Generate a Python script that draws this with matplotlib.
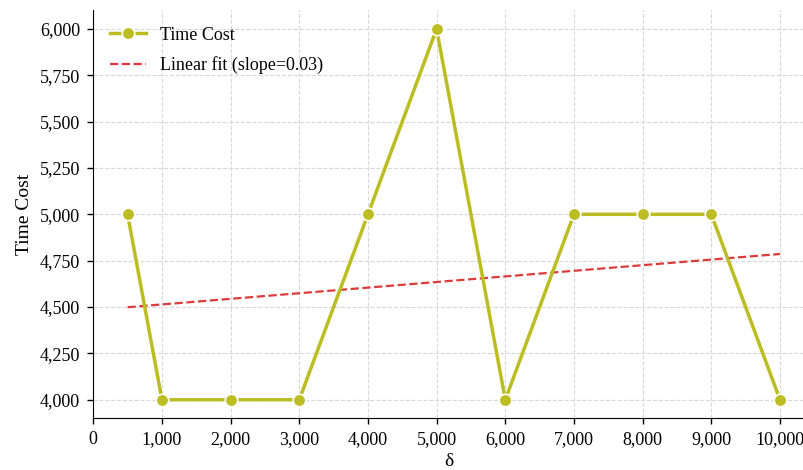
import matplotlib
matplotlib.use('Agg')
import matplotlib.pyplot as plt
from matplotlib.ticker import FuncFormatter
import numpy as np

plt.rcParams['font.family'] = ['Liberation Serif', 'DejaVu Serif']

delta = [500, 1000, 2000, 3000, 4000, 5000, 6000, 7000, 8000, 9000, 10000]
time_cost = [5000, 4000, 4000, 4000, 5000, 6000, 4000, 5000, 5000, 5000, 4000]
x_ticks = [0, 1000, 2000, 3000, 4000, 5000, 6000, 7000, 8000, 9000, 10000]
y_ticks = [4000, 4250, 4500, 4750, 5000, 5250, 5500, 5750, 6000]

x = np.array(delta, dtype=float)
y = np.array(time_cost, dtype=float)
slope, intercept = np.polyfit(x, y, 1)

fig = plt.figure(figsize=(8.04, 4.7), dpi=100)
ax = fig.add_axes([0.116, 0.11, 0.884, 0.868])

ax.plot(x, y, color='#bcbd22', linewidth=2.5, marker='o', markersize=9,
        markeredgecolor='white', markeredgewidth=1.2, label='Time Cost', zorder=3)
ax.plot(x, slope * x + intercept, color='#dd3b3b', linestyle='--', linewidth=1.6,
        label=f'Linear fit (slope={slope:.2f})', zorder=2)

ax.set_xlim(0, 10350)
ax.set_ylim(3900, 6100)
ax.set_xticks(x_ticks)
ax.set_yticks(y_ticks)
fmt = FuncFormatter(lambda v, p: f'{int(v):,}')
ax.xaxis.set_major_formatter(fmt)
ax.yaxis.set_major_formatter(fmt)
ax.tick_params(labelsize=13, length=4.5, width=1, pad=5)

ax.set_xlabel('δ', fontsize=14, labelpad=3)
ax.set_ylabel('Time Cost', fontsize=14, labelpad=5)

ax.grid(True, linestyle='--', color='#d8d8d8', linewidth=0.8)
ax.set_axisbelow(True)
ax.spines['top'].set_visible(False)
ax.spines['right'].set_visible(False)

ax.legend(loc='upper left', frameon=False, fontsize=13, labelspacing=0.7)

fig.savefig('out.png', dpi=100)
plt.close(fig)
